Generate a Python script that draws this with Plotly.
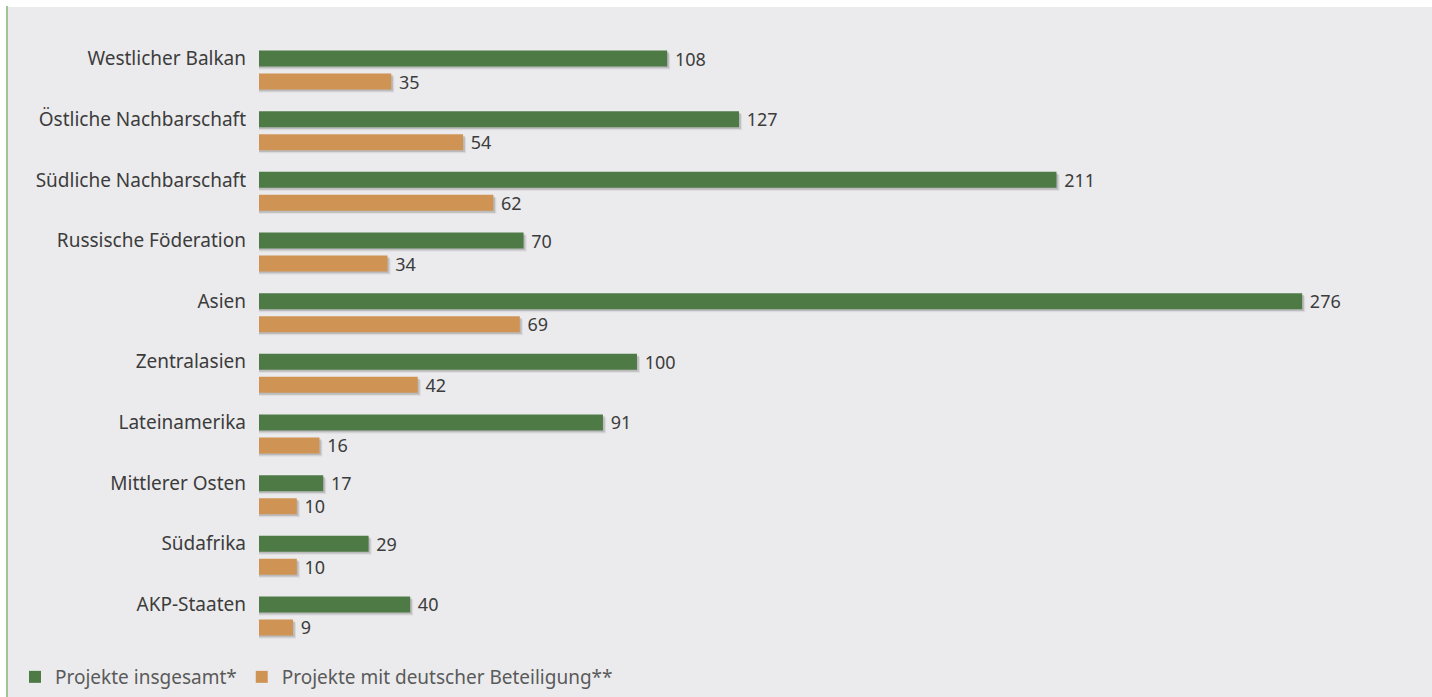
import plotly.graph_objects as go

# Regions and project counts
regionen = [
    "Westlicher Balkan",
    "Östliche Nachbarschaft",
    "Südliche Nachbarschaft",
    "Russische Föderation",
    "Asien",
    "Zentralasien",
    "Lateinamerika",
    "Mittlerer Osten",
    "Südafrika",
    "AKP-Staaten",
]
projekte_insgesamt = [108, 127, 211, 70, 276, 100, 91, 17, 29, 40]
projekte_deutsch = [35, 54, 62, 34, 69, 42, 16, 10, 10, 9]
serien = ["Projekte insgesamt*", "Projekte mit deutscher Beteiligung**"]

GREEN = "#4e7a46"
ORANGE = "#cf9453"
BG = "#ebebed"
TEXT = "#3c3c3c"
FONT = "Noto Sans"

W, H = 1432, 697
ML, MR, MT, MB = 259, 10, 10, 44
PW, PH = W - ML - MR, H - MT - MB
Y0, Y1 = -0.8, 9.8
unit = PH / (Y1 - Y0)          # pixels per category
XMAX = 307.7
xunit = PW / XMAX              # pixels per project

bar_w = 16 / unit
g_off = -bar_w / 2
o_off = 15 / unit

fig = go.Figure()

# soft drop shadows behind the bars
for dx, dy, alpha in [(3.0, 3.0, 0.07), (1.8, 1.8, 0.14)]:
    for vals, off in [(projekte_insgesamt, g_off), (projekte_deutsch, o_off)]:
        fig.add_trace(go.Bar(
            y=regionen, x=[v + dx / xunit for v in vals], orientation="h",
            offset=off + dy / unit, width=bar_w,
            marker=dict(color=f"rgba(0,0,0,{alpha})", line=dict(width=0)),
            showlegend=False, hoverinfo="skip",
        ))

for vals, off, color in [(projekte_insgesamt, g_off, GREEN),
                         (projekte_deutsch, o_off, ORANGE)]:
    fig.add_trace(go.Bar(
        y=regionen, x=vals, orientation="h",
        offset=off, width=bar_w,
        marker=dict(color=color, line=dict(width=0)),
        text=vals, texttemplate=" %{text}", textposition="outside",
        constraintext="none",
        textfont=dict(family=FONT, size=18, color=TEXT),
        cliponaxis=False, showlegend=False,
    ))

# legend entries with square swatches
for name, color in zip(serien, [GREEN, ORANGE]):
    fig.add_trace(go.Scatter(
        x=[None], y=[None], mode="markers", name=name,
        marker=dict(symbol="square", size=12, color=color),
    ))

def px_x(p):
    return (p - ML) / PW

def px_y(p):
    return (H - MB - p) / PH

shapes = [
    # grey panel with white margin strip at top and left
    dict(type="rect", xref="paper", yref="paper", layer="below",
         x0=px_x(8), x1=px_x(W + 5), y0=px_y(7), y1=px_y(H + 5),
         fillcolor=BG, line=dict(width=0)),
    # green rule on the left edge
    dict(type="line", xref="paper", yref="paper", layer="above",
         x0=px_x(7), x1=px_x(7), y0=px_y(6), y1=px_y(H + 5),
         line=dict(color="#9ec498", width=2)),
]

fig.update_layout(
    width=W, height=H,
    margin=dict(l=ML, r=MR, t=MT, b=MB, autoexpand=False),
    paper_bgcolor="white",
    plot_bgcolor=BG,
    barmode="overlay",
    shapes=shapes,
    font=dict(family=FONT, color=TEXT),
    showlegend=True,
    legend=dict(
        orientation="h", xref="container", yref="container",
        x=15 / W, xanchor="left",
        y=(H - 677) / H, yanchor="middle",
        bgcolor="rgba(0,0,0,0)",
        font=dict(family=FONT, size=19, color="#5a5a5a"),
        itemwidth=30, tracegroupgap=0,
    ),
    xaxis=dict(range=[0, XMAX], visible=False, showgrid=False, zeroline=False),
    yaxis=dict(
        type="category", categoryorder="array", categoryarray=regionen,
        range=[Y1, Y0], showgrid=False, zeroline=False, showline=False,
        ticks="", ticklabelstandoff=12,
        tickfont=dict(family=FONT, size=19, color=TEXT),
    ),
)

fig.write_html("out.html")
